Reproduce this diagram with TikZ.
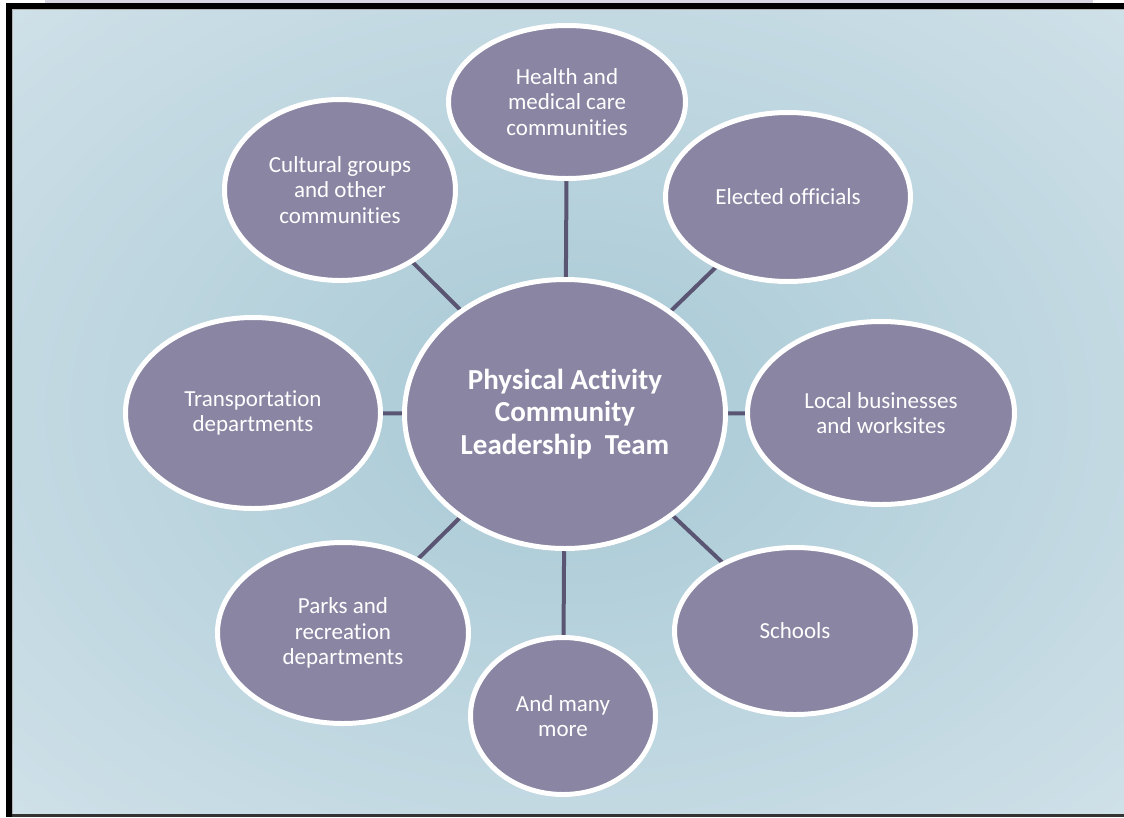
\documentclass[tikz,border=0pt]{standalone}
\usepackage{fontspec}
\setmainfont{Carlito}[Ligatures=NoCommon]
\usetikzlibrary{shapes.geometric,shadows}
\pgfdeclarelayer{bg}
\pgfdeclarelayer{lines}
\pgfsetlayers{bg,lines,main}
\definecolor{bubblefill}{RGB}{138,133,163}
\definecolor{connfill}{RGB}{90,85,114}
\definecolor{bgin}{RGB}{176,206,217}
\definecolor{bgout}{RGB}{229,237,243}
\definecolor{stripfill}{RGB}{216,214,226}
\pgfdeclareradialshading{bgshade}{\pgfpoint{0bp}{0bp}}{color(0bp)=(bgin); color(8bp)=(bgin); color(55bp)=(bgout); color(72bp)=(bgout)}
\tikzset{
  bubble/.style={ellipse, fill=bubblefill, draw=white, line width=5pt, text=white,
    align=center, inner sep=0pt, font=\fontsize{23}{25.5}\selectfont,
    drop shadow={opacity=0.22, shadow xshift=1pt, shadow yshift=-2.5pt}},
  connector/.style={draw=connfill, line width=4pt}
}
\begin{document}
\begin{tikzpicture}[x=1pt,y=-1pt]
\useasboundingbox (0,0) rectangle (1124,817);
\begin{pgfonlayer}{bg}
\fill[white] (0,0) rectangle (1124,817);
\fill[stripfill] (45,0) rectangle (1093,3);
\shade[shading=bgshade] (12,9) rectangle (1124,814);
\fill[black] (6,3) rectangle (1124,9);
\fill[black] (6,3) rectangle (12,817);
\fill[black!80] (12,814) rectangle (1124,817);
\draw[gray!60, line width=1pt] (12.5,814) -- (12.5,9.5) -- (1124,9.5);
\end{pgfonlayer}

\node[bubble, minimum width=321pt, minimum height=269pt,
  font=\bfseries\fontsize{29}{32.5}\selectfont] (c) at (565,414)
  {Physical Activity\\Community\\Leadership\ \ Team};
\node[bubble, minimum width=237pt, minimum height=153pt] (h) at (567,102)
  {Health and\\medical care\\communities};
\node[bubble, minimum width=245pt, minimum height=169pt] (e) at (788,197)
  {Elected officials};
\node[bubble, minimum width=231pt, minimum height=181pt] (g) at (340,190)
  {Cultural groups\\and other\\communities};
\node[bubble, minimum width=255pt, minimum height=191pt] (t) at (253,413)
  {Transportation\\departments};
\node[bubble, minimum width=267pt, minimum height=183pt] (l) at (881,413)
  {Local businesses\\and worksites};
\node[bubble, minimum width=251pt, minimum height=181pt] (p) at (343,633)
  {Parks and\\recreation\\departments};
\node[bubble, minimum width=185pt, minimum height=157pt] (m) at (563,716)
  {And many\\more};
\node[bubble, minimum width=241pt, minimum height=167pt] (s) at (795,631)
  {Schools};

\begin{pgfonlayer}{lines}
\foreach \n in {h,e,l,s,m,p,t,g}
  \draw[connector] (c.center) -- (\n.center);
\end{pgfonlayer}
\end{tikzpicture}
\end{document}
